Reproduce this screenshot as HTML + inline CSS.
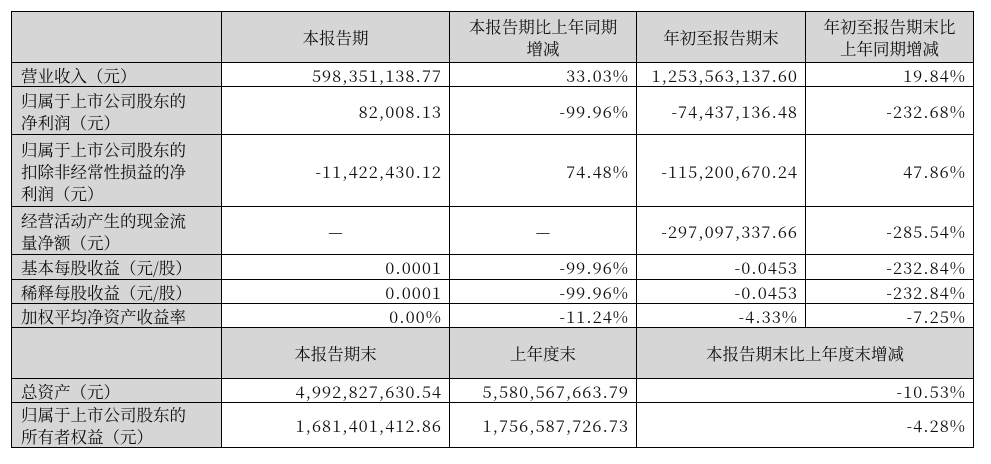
<!DOCTYPE html>
<html><head><meta charset="utf-8"><style>
body{margin:0;background:#fff;width:991px;height:464px;overflow:hidden}
table{position:absolute;left:11px;top:11px;border-collapse:collapse;table-layout:fixed;font-family:"Noto Serif CJK SC","Liberation Serif",serif;font-size:16.5px;color:#111}
td{border:1px solid #000;padding:0 8px;line-height:22px;white-space:nowrap;overflow:hidden}
td.g{background:#d6d6d6}
td.h{background:#d6d6d6;text-align:center}
td.r{text-align:right;letter-spacing:1px;padding-right:7px}
td.c{text-align:center}
td.l{white-space:normal;padding-left:9px}
</style></head><body>
<table>
<colgroup><col style="width:210px"><col style="width:228px"><col style="width:187px"><col style="width:169px"><col style="width:168px"></colgroup>
<tr style="height:51px"><td class="g"></td><td class="h">本报告期</td><td class="h">本报告期比上年同期<br>增减</td><td class="h">年初至报告期末</td><td class="h">年初至报告期末比<br>上年同期增减</td></tr>
<tr style="height:24px"><td class="g l">营业收入（元）</td><td class="r">598,351,138.77</td><td class="r">33.03%</td><td class="r">1,253,563,137.60</td><td class="r">19.84%</td></tr>
<tr style="height:48px"><td class="g l">归属于上市公司股东的<br>净利润（元）</td><td class="r">82,008.13</td><td class="r">-99.96%</td><td class="r">-74,437,136.48</td><td class="r">-232.68%</td></tr>
<tr style="height:72px"><td class="g l">归属于上市公司股东的<br>扣除非经常性损益的净<br>利润（元）</td><td class="r">-11,422,430.12</td><td class="r">74.48%</td><td class="r">-115,200,670.24</td><td class="r">47.86%</td></tr>
<tr style="height:48px"><td class="g l">经营活动产生的现金流<br>量净额（元）</td><td class="c">—</td><td class="c">—</td><td class="r">-297,097,337.66</td><td class="r">-285.54%</td></tr>
<tr style="height:25px"><td class="g l">基本每股收益（元/股）</td><td class="r">0.0001</td><td class="r">-99.96%</td><td class="r">-0.0453</td><td class="r">-232.84%</td></tr>
<tr style="height:24px"><td class="g l">稀释每股收益（元/股）</td><td class="r">0.0001</td><td class="r">-99.96%</td><td class="r">-0.0453</td><td class="r">-232.84%</td></tr>
<tr style="height:24px"><td class="g l">加权平均净资产收益率</td><td class="r">0.00%</td><td class="r">-11.24%</td><td class="r">-4.33%</td><td class="r">-7.25%</td></tr>
<tr style="height:51px"><td class="g"></td><td class="h">本报告期末</td><td class="h">上年度末</td><td class="h" colspan="2">本报告期末比上年度末增减</td></tr>
<tr style="height:24px"><td class="g l">总资产（元）</td><td class="r">4,992,827,630.54</td><td class="r">5,580,567,663.79</td><td class="r" colspan="2">-10.53%</td></tr>
<tr style="height:45px"><td class="g l">归属于上市公司股东的<br>所有者权益（元）</td><td class="r">1,681,401,412.86</td><td class="r">1,756,587,726.73</td><td class="r" colspan="2">-4.28%</td></tr>
</table>
</body></html>
